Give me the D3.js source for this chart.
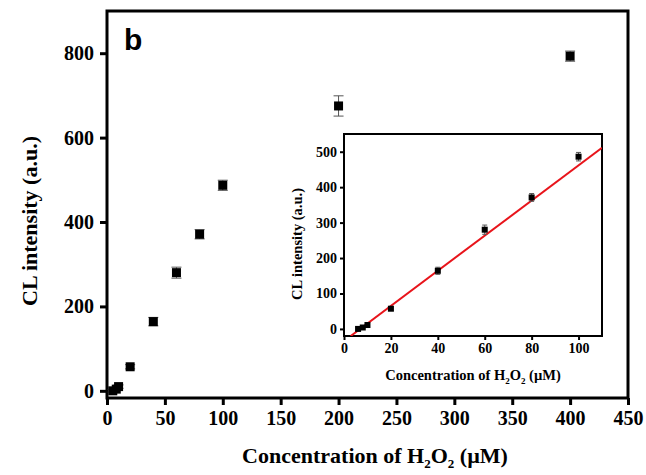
<!DOCTYPE html>
<html>
<head>
<meta charset="utf-8">
<script src="https://cdn.jsdelivr.net/npm/d3@7/dist/d3.min.js"></script>
<style>
  body { margin: 0; background: #fff; }
  svg { display: block; }
</style>
</head>
<body>
<svg id="chart" width="646" height="475"></svg>
<script>
// H2O2 concentration (µM) and chemiluminescence response
const concentration = [5, 8, 10, 20, 40, 60, 80, 100, 200, 400];
const intensity     = [0, 4, 10, 57, 164, 280, 371, 487, 675, 793];
const intensityErr  = [3, 3, 4, 5, 10, 13, 11, 12, 24, 12];

// Linear range shown in the inset
const linConc = [6, 8, 10, 20, 40, 60, 80, 100];
const linInt  = [0, 4, 11, 57, 164, 280, 371, 486];
const linErr  = [3, 3, 4, 5, 10, 13, 11, 12];

// Least-squares fit of the linear range: [slope, intercept]
const fitLine = [4.96, -34.2];

const mainXTicks = [0, 50, 100, 150, 200, 250, 300, 350, 400, 450];
const mainYTicks = [0, 200, 400, 600, 800];
const insetXTicks = [0, 20, 40, 60, 80, 100];
const insetYTicks = [0, 100, 200, 300, 400, 500];

const svg = d3.select("#chart");
const serif = "'Liberation Serif', 'Times New Roman', serif";

function drawPanel(g, opt) {
  const x = d3.scaleLinear().domain(opt.xDomain).range([opt.left, opt.right]);
  const y = d3.scaleLinear().domain(opt.yDomain).range([opt.bottom, opt.top]);

  // frame
  g.append("rect")
    .attr("x", opt.left).attr("y", opt.top)
    .attr("width", opt.right - opt.left).attr("height", opt.bottom - opt.top)
    .attr("fill", "#fff").attr("stroke", "#000").attr("stroke-width", opt.frameW);

  const xAxis = g.append("g")
    .attr("transform", `translate(0,${opt.bottom})`)
    .call(d3.axisBottom(x).tickValues(opt.xTicks).tickSize(opt.tickLen).tickPadding(opt.tickPad).tickFormat(d3.format("d")));
  const yAxis = g.append("g")
    .attr("transform", `translate(${opt.left},0)`)
    .call(d3.axisLeft(y).tickValues(opt.yTicks).tickSize(opt.tickLen).tickPadding(opt.tickPad).tickFormat(d3.format("d")));
  [xAxis, yAxis].forEach(a => {
    a.select(".domain").remove();
    a.selectAll(".tick line").attr("stroke", "#000").attr("stroke-width", opt.tickW);
    a.selectAll(".tick text")
      .attr("fill", "#000")
      .style("font-family", serif).style("font-weight", "bold").style("font-size", opt.tickFont + "px");
  });

  return { x, y };
}

function drawPoints(g, s, xs, ys, es, size, capW, errW) {
  const pts = xs.map((d, i) => ({ x: d, y: ys[i], e: es[i] }));
  const eb = g.append("g").attr("stroke", "#555").attr("stroke-width", errW).attr("fill", "none");
  pts.forEach(p => {
    const cx = s.x(p.x);
    eb.append("line").attr("x1", cx).attr("x2", cx).attr("y1", s.y(p.y - p.e)).attr("y2", s.y(p.y + p.e));
    eb.append("line").attr("x1", cx - capW / 2).attr("x2", cx + capW / 2).attr("y1", s.y(p.y + p.e)).attr("y2", s.y(p.y + p.e));
    eb.append("line").attr("x1", cx - capW / 2).attr("x2", cx + capW / 2).attr("y1", s.y(p.y - p.e)).attr("y2", s.y(p.y - p.e));
  });
  g.append("g").selectAll("rect").data(pts).join("rect")
    .attr("x", p => s.x(p.x) - size / 2)
    .attr("y", p => s.y(p.y) - size / 2)
    .attr("width", size).attr("height", size)
    .attr("fill", "#000");
}

function subscriptLabel(sel, base, sub, size, shift) {
  sel.append("tspan").text("Concentration of H");
  sel.append("tspan").attr("dy", shift).style("font-size", sub + "px").text("2");
  sel.append("tspan").attr("dy", -shift).text("O");
  sel.append("tspan").attr("dy", shift).style("font-size", sub + "px").text("2");
  sel.append("tspan").attr("dy", -shift).text(" (\u00b5M)");
}

// ---- main panel ----
const main = svg.append("g");
const M = { left: 107, right: 628, top: 11, bottom: 398 };
const ms = drawPanel(main, {
  ...M, xDomain: [0, 450], yDomain: [-17, 900],
  xTicks: mainXTicks, yTicks: mainYTicks,
  frameW: 3, tickLen: 7, tickW: 3, tickPad: 6, tickFont: 20
});
drawPoints(main, ms, concentration, intensity, intensityErr, 9, 10, 1);

main.append("text")
  .attr("x", 124).attr("y", 50)
  .style("font-family", "'Liberation Sans', Arial, sans-serif")
  .style("font-weight", "bold").style("font-size", "30px")
  .text("b");

main.append("text")
  .attr("transform", "translate(37,221) rotate(-90)")
  .attr("text-anchor", "middle")
  .style("font-family", serif).style("font-weight", "bold").style("font-size", "22px")
  .text("CL intensity (a.u.)");

const mxl = main.append("text")
  .attr("x", 375).attr("y", 463)
  .attr("text-anchor", "middle")
  .style("font-family", serif).style("font-weight", "bold").style("font-size", "22px");
subscriptLabel(mxl, 22, 13, 22, 5);

// ---- inset ----
const inset = svg.append("g");
const I = { left: 344, right: 602, top: 134, bottom: 336 };
const is = drawPanel(inset, {
  ...I, xDomain: [0, 110], yDomain: [-20, 550],
  xTicks: insetXTicks, yTicks: insetYTicks,
  frameW: 2, tickLen: 4, tickW: 2, tickPad: 3, tickFont: 14
});

inset.append("clipPath").attr("id", "insetClip")
  .append("rect").attr("x", I.left).attr("y", I.top)
  .attr("width", I.right - I.left).attr("height", I.bottom - I.top);

const [slope, intercept] = fitLine;
const xStart = (-20 - intercept) / slope;
inset.append("line")
  .attr("clip-path", "url(#insetClip)")
  .attr("x1", is.x(xStart)).attr("y1", is.y(slope * xStart + intercept))
  .attr("x2", is.x(110)).attr("y2", is.y(slope * 110 + intercept))
  .attr("stroke", "#e8141b").attr("stroke-width", 2);

drawPoints(inset, is, linConc, linInt, linErr, 6, 5, 1);

inset.append("text")
  .attr("transform", "translate(302,244) rotate(-90)")
  .attr("text-anchor", "middle")
  .style("font-family", serif).style("font-weight", "bold").style("font-size", "14.5px")
  .text("CL intensity (a.u.)");

const ixl = inset.append("text")
  .attr("x", 473).attr("y", 380)
  .attr("text-anchor", "middle")
  .style("font-family", serif).style("font-weight", "bold").style("font-size", "14.5px");
subscriptLabel(ixl, 14.5, 9, 14.5, 4);
</script>
</body>
</html>
